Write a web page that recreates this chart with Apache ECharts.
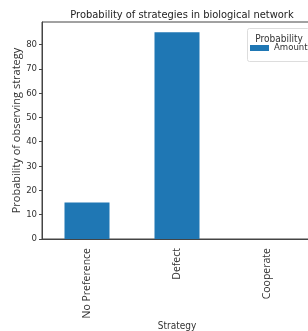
<!DOCTYPE html>
<html>
<head>
<meta charset="utf-8">
<script src="https://cdn.jsdelivr.net/npm/echarts@6/dist/echarts.min.js"></script>
<style>
  html, body { margin: 0; padding: 0; overflow: hidden; background: #fff; }
  #chart { width: 312px; height: 331px; }
</style>
</head>
<body>
<div id="chart"></div>
<script>
// Strategy probabilities
const categories = ['No Preference', 'Defect', 'Cooperate']
const amount = [15, 85, 0]
const yTicks = [0, 10, 20, 30, 40, 50, 60, 70, 80]

const font = 'Open Sans, DejaVu Sans, sans-serif'
const narrow = 'DejaVu Sans Condensed, Liberation Sans, sans-serif'
const ink = '#333'

const chart = echarts.init(document.getElementById('chart'))

chart.setOption({
  animation: false,
  backgroundColor: '#fff',
  textStyle: { fontFamily: font },
  title: {
    text: 'Probability of strategies in biological network',
    left: 177,
    textAlign: 'center',
    top: 5,
    textStyle: { fontSize: 11, fontWeight: 'normal', color: '#222', fontFamily: narrow }
  },
  grid: {
    left: 42,
    right: 0,
    top: 22,
    bottom: 92,
    outerBoundsMode: 'none',
    containLabel: false,
    show: true,
    borderColor: '#444',
    borderWidth: 1
  },
  legend: {
    data: ['Amount'],
    left: 250,
    top: 43,
    padding: 0,
    itemWidth: 19,
    itemHeight: 6,
    icon: 'rect',
    textStyle: { fontSize: 9.5, color: ink, fontFamily: narrow }
  },
  graphic: [
    {
      type: 'rect',
      shape: { x: 247.5, y: 28.5, width: 62, height: 33, r: 2 },
      style: { fill: 'rgba(255,255,255,0.8)', stroke: '#ddd', lineWidth: 1 },
      z: -1
    },
    {
      type: 'text',
      x: 279,
      y: 39,
      style: { text: 'Probability', fontSize: 10, fill: ink, fontFamily: narrow, align: 'center', verticalAlign: 'middle' }
    }
  ],
  xAxis: {
    type: 'category',
    data: categories,
    name: 'Strategy',
    nameLocation: 'middle',
    nameGap: 82,
    nameMoveOverlap: false,
    nameTextStyle: { fontSize: 10, color: ink, fontFamily: narrow },
    axisLine: { lineStyle: { color: '#444' } },
    axisTick: { alignWithLabel: true, length: 3, lineStyle: { color: '#444' } },
    axisLabel: { rotate: 90, fontSize: 10.5, color: ink, margin: 9 }
  },
  yAxis: {
    type: 'value',
    min: 0,
    max: 89.25,
    interval: 10,
    name: 'Probability of observing strategy',
    nameLocation: 'middle',
    nameGap: 20,
    nameMoveOverlap: false,
    nameTextStyle: { fontSize: 11, color: ink },
    axisLine: { show: true, lineStyle: { color: '#444' } },
    axisTick: { show: true, length: 3, lineStyle: { color: '#444' } },
    splitLine: { show: false },
    axisLabel: {
      fontSize: 9.5,
      color: ink,
      fontFamily: narrow,
      margin: 5,
      showMaxLabel: false,
      formatter: v => (yTicks.includes(v) ? String(v) : '')
    }
  },
  series: [{
    name: 'Amount',
    type: 'bar',
    data: amount,
    barWidth: '50%',
    itemStyle: { color: '#1f77b4' }
  }]
})
</script>
</body>
</html>
